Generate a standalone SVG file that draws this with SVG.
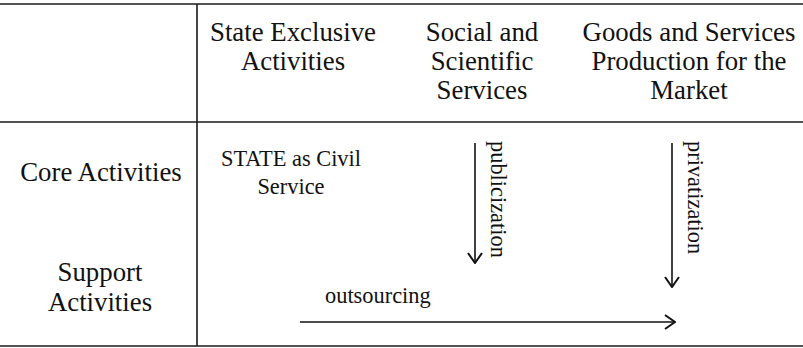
<svg xmlns="http://www.w3.org/2000/svg" width="803" height="348" viewBox="0 0 803 348">
<defs>
<style>
.t{font-family:"Liberation Serif","Times New Roman",serif;fill:#111}
.h{font-size:26.8px;text-anchor:middle}
.s{font-size:22.4px}
.rule{stroke:#1a1a1a;stroke-width:1.6;fill:none}
.conn{stroke:#111;stroke-width:1.6;fill:none}
</style>
<marker id="ah" viewBox="0 0 12 16" refX="11" refY="8" markerWidth="12" markerHeight="16" markerUnits="userSpaceOnUse" orient="auto">
<path d="M1,1 L11,8 L1,15" fill="none" stroke="#111" stroke-width="2"/>
</marker>
</defs>
<rect width="803" height="348" fill="#fff"/>
<g id="table">
<line class="rule" x1="0" y1="4" x2="803" y2="4"/>
<line class="rule" x1="0" y1="122" x2="803" y2="122"/>
<line class="rule" x1="0" y1="346" x2="803" y2="346"/>
<line class="rule" x1="197" y1="4" x2="197" y2="346"/>
</g>
<g id="col-state">
<text class="t h" x="293" y="41">State Exclusive</text>
<text class="t h" x="293" y="70">Activities</text>
</g>
<g id="col-social">
<text class="t h" x="482" y="41">Social and</text>
<text class="t h" x="482" y="70">Scientific</text>
<text class="t h" x="482" y="99">Services</text>
</g>
<g id="col-goods">
<text class="t h" x="689" y="41">Goods and Services</text>
<text class="t h" x="689" y="70">Production for the</text>
<text class="t h" x="689" y="99">Market</text>
</g>
<g id="row-core">
<text class="t h" x="101" y="181">Core Activities</text>
</g>
<g id="row-support">
<text class="t h" x="100" y="281">Support</text>
<text class="t h" x="100" y="311">Activities</text>
</g>
<g id="state-civil">
<text class="t s" x="291" y="166" text-anchor="middle">STATE as Civil</text>
<text class="t s" x="291" y="194" text-anchor="middle">Service</text>
</g>
<g id="connectors">
<line class="conn" x1="475" y1="143" x2="475" y2="263" marker-end="url(#ah)"/>
<line class="conn" x1="672" y1="143" x2="672" y2="287" marker-end="url(#ah)"/>
<line class="conn" x1="300" y1="322" x2="675" y2="322" marker-end="url(#ah)"/>
<text class="t s" transform="translate(491,141) rotate(90)">publicization</text>
<text class="t s" transform="translate(688,141) rotate(90)">privatization</text>
<text class="t s" x="325" y="303">outsourcing</text>
</g>
</svg>
